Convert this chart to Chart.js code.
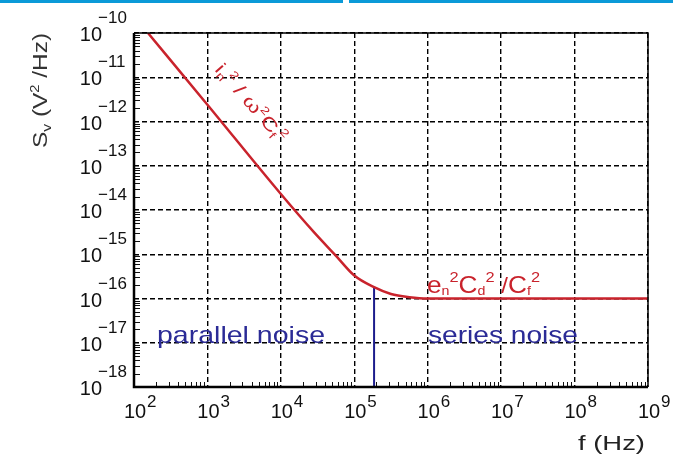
<!DOCTYPE html>
<html>
<head>
<meta charset="utf-8">
<script src="https://cdn.jsdelivr.net/npm/chart.js@4.4.0/dist/chart.umd.min.js"></script>
<style>
  html, body { margin: 0; padding: 0; background: #fff; }
  #wrap { position: relative; width: 673px; height: 456px; }
  .bar { position: absolute; top: 0; height: 3px; background: #0b9ad8; }
</style>
</head>
<body>
<div id="wrap">
  <canvas id="chart"></canvas>
  <div class="bar" style="left:0;width:343px"></div>
  <div class="bar" style="left:349px;right:0"></div>
</div>
<script>
// Noise spectral density (f in Hz, S in V^2/Hz)
const freqHz = [155, 1000, 10000, 28000, 56000, 100000, 186000, 316000, 562000, 1000000, 1000000000];
const noiseDensity = [1e-10, 2.4e-12, 2.3e-14, 3.2e-15, 9.3e-16, 3.3e-16, 1.8e-16, 1.26e-16, 1.07e-16, 1e-16, 1e-16];

// Corner marker (vertical blue line)
const cornerFreq = [186000, 186000];
const cornerLevel = [1e-18, 1.8e-16];

// Axis decades
const xTickExponents = [2, 3, 4, 5, 6, 7, 8, 9];
const yTickExponents = [-18, -17, -16, -15, -14, -13, -12, -11, -10];

const xDecades = xTickExponents.map((e) => Math.pow(10, e));
const yDecades = yTickExponents.map((e) => Math.pow(10, e));

const FONT = '"Liberation Sans", Arial, sans-serif';
const font = (s) => s + "px " + FONT;

function richWidth(ctx, parts) {
    let w = 0;
    for (const p of parts) {
        ctx.font = font(p.s);
        w += ctx.measureText(p.t).width;
    }
    return w;
}

// Draws a run of text pieces (sub/superscripts via dy), optionally rotated
// and stretched horizontally to a target width.
function drawRich(ctx, parts, x, y, angle, width, color) {
    ctx.save();
    ctx.translate(x, y);
    ctx.rotate(angle || 0);
    if (width) {
        ctx.scale(width / richWidth(ctx, parts), 1);
    }
    ctx.fillStyle = color;
    ctx.textAlign = "left";
    ctx.textBaseline = "alphabetic";
    let cx = 0;
    for (const p of parts) {
        ctx.font = font(p.s);
        ctx.fillText(p.t, cx, p.dy || 0);
        cx += ctx.measureText(p.t).width;
    }
    ctx.restore();
}

const decorPlugin = {
    id: "decor",
    afterDraw(chart) {
        const { ctx, chartArea: a, scales } = chart;
        const xs = scales.x;
        const ys = scales.y;
        ctx.save();

        // minor ticks, inside the frame
        ctx.strokeStyle = "#111";
        ctx.lineWidth = 1;
        ctx.beginPath();
        for (let i = 0; i < xTickExponents.length - 1; i++) {
            for (let k = 2; k <= 9; k++) {
                const px = Math.round(xs.getPixelForValue(k * xDecades[i])) + 0.5;
                ctx.moveTo(px, a.bottom);
                ctx.lineTo(px, a.bottom - 5);
            }
        }
        for (let i = 0; i < yTickExponents.length - 1; i++) {
            for (let k = 2; k <= 9; k++) {
                const py = Math.round(ys.getPixelForValue(k * yDecades[i])) + 0.5;
                ctx.moveTo(a.left, py);
                ctx.lineTo(a.left + 6, py);
            }
        }
        ctx.stroke();

        // frame: heavier left/bottom axes, thinner top/right
        ctx.strokeStyle = "#000";
        ctx.lineWidth = 1.5;
        ctx.beginPath();
        ctx.moveTo(a.left, a.top);
        ctx.lineTo(a.right, a.top);
        ctx.lineTo(a.right, a.bottom);
        ctx.stroke();
        ctx.lineWidth = 2.5;
        ctx.beginPath();
        ctx.moveTo(a.left, a.top);
        ctx.lineTo(a.left, a.bottom);
        ctx.lineTo(a.right, a.bottom);
        ctx.stroke();

        // tick labels 10^n
        ctx.fillStyle = "#111";
        ctx.textBaseline = "alphabetic";
        xs.ticks.forEach((t, i) => {
            const px = xs.getPixelForValue(t.value);
            ctx.font = font(20);
            ctx.textAlign = "center";
            ctx.fillText("10", px + 1, a.bottom + 31);
            ctx.font = font(17);
            ctx.textAlign = "left";
            ctx.fillText(String(xTickExponents[i]), px + 13, a.bottom + 20);
        });
        ys.ticks.forEach((t, i) => {
            const py = ys.getPixelForValue(t.value);
            ctx.font = font(20);
            ctx.textAlign = "right";
            ctx.fillText("10", 102, py + 8);
            ctx.font = font(17);
            ctx.textAlign = "left";
            ctx.fillText("\u2212" + Math.abs(yTickExponents[i]), 98, py - 10);
        });

        // axis titles
        drawRich(ctx, [
            { t: "S", s: 20 }, { t: "v", s: 13, dy: 4 }, { t: " (V", s: 20 },
            { t: "2", s: 12, dy: -8 }, { t: " /Hz)", s: 20 },
        ], 47, 148, -Math.PI / 2, 115, "#333");
        drawRich(ctx, [{ t: "f (Hz)", s: 21 }], 578, 450, 0, 67, "#222");

        // annotations
        const red = "#c9232c";
        const blue = "#2b2b96";
        drawRich(ctx, [
            { t: "i", s: 18 }, { t: "n", s: 11, dy: 3 }, { t: "2", s: 11, dy: -8 },
            { t: " / ", s: 18 }, { t: "\u03c9", s: 18 }, { t: "2", s: 11, dy: -8 },
            { t: "C", s: 18 }, { t: "f", s: 11, dy: 3 }, { t: "2", s: 11, dy: -8 },
        ], 214, 70, 0.85, 98, red);
        drawRich(ctx, [
            { t: "e", s: 24 }, { t: "n", s: 13, dy: 2 }, { t: "2", s: 15, dy: -11 },
            { t: "C", s: 24 }, { t: "d", s: 13, dy: 2 }, { t: "2", s: 15, dy: -11 },
            { t: " /", s: 22 }, { t: "C", s: 24 }, { t: "f", s: 13, dy: 2 },
            { t: "2", s: 15, dy: -11 },
        ], 427, 293, 0, 113, red);
        drawRich(ctx, [{ t: "parallel noise", s: 24 }], 157, 343, 0, 168, blue);
        drawRich(ctx, [{ t: "series noise", s: 24 }], 428, 343, 0, 150, blue);

        ctx.restore();
    },
};

const axisCommon = {
    type: "logarithmic",
    ticks: { display: false },
    grid: { color: "#000", lineWidth: 1.4, drawTicks: false },
    border: { display: false, dash: [5, 3] },
};

new Chart(document.getElementById("chart").getContext("2d"), {
    type: "line",
    data: {
        datasets: [
            {
                data: freqHz.map((f, i) => ({ x: f, y: noiseDensity[i] })),
                borderColor: "#c9232c",
                borderWidth: 2.5,
                pointRadius: 0,
                cubicInterpolationMode: "monotone",
            },
            {
                data: cornerFreq.map((f, i) => ({ x: f, y: cornerLevel[i] })),
                borderColor: "#1c1c8c",
                borderWidth: 2,
                pointRadius: 0,
            },
        ],
    },
    options: {
        responsive: true,
        maintainAspectRatio: false,
        animation: false,
        layout: { padding: { left: 134, right: 25, top: 33, bottom: 69 } },
        plugins: { legend: { display: false }, tooltip: { enabled: false } },
        scales: {
            x: Object.assign({}, axisCommon, {
                min: xDecades[0],
                max: xDecades[xDecades.length - 1],
                afterBuildTicks: (s) => { s.ticks = xDecades.map((v) => ({ value: v })); },
                afterFit: (s) => { s.height = 0; },
            }),
            y: Object.assign({}, axisCommon, {
                min: yDecades[0],
                max: yDecades[yDecades.length - 1],
                afterBuildTicks: (s) => { s.ticks = yDecades.map((v) => ({ value: v })); },
                afterFit: (s) => { s.width = 0; },
            }),
        },
    },
    plugins: [decorPlugin],
});
</script>
</body>
</html>
